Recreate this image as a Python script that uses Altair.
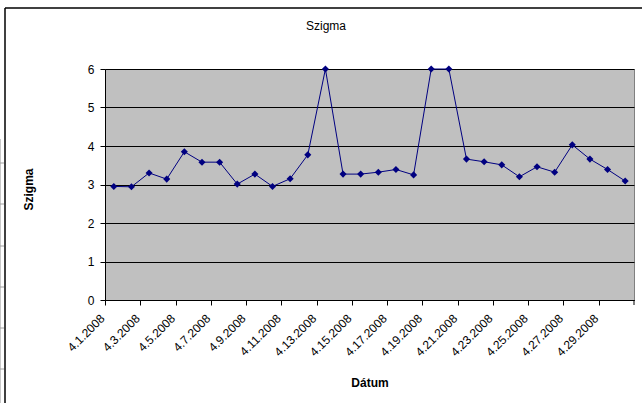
import altair as alt
import pandas as pd

# Daily sigma values for April 2008
days = list(range(1, 31))
date_labels = [f"4.{d}.2008" for d in days]
sigma = [2.95, 2.94, 3.30, 3.14, 3.85, 3.58, 3.58, 3.01, 3.27, 2.95,
         3.15, 3.77, 6.00, 3.27, 3.27, 3.32, 3.39, 3.25, 6.00, 6.00,
         3.66, 3.59, 3.51, 3.20, 3.46, 3.32, 4.03, 3.66, 3.39, 3.09]
shown_labels = date_labels[::2]
y_ticks = [0, 1, 2, 3, 4, 5, 6]

FONT = "Liberation Sans"
W, H = 529, 231
STEP = W / len(days)

df = pd.DataFrame({"Dátum": date_labels, "Szigma": sigma})

x_enc = alt.X(
    "Dátum:N",
    sort=date_labels,
    scale=alt.Scale(type="point", padding=0.5),
    axis=alt.Axis(
        values=shown_labels,
        title="Dátum",
        titleFont=FONT, titleFontSize=12, titleFontWeight="bold",
        titleColor="black", titleY=82, titleBaseline="middle",
        labelFont=FONT, labelFontSize=12, labelColor="black",
        labelAngle=-45, labelAlign="right", labelBaseline="middle",
        labelOffset=-STEP / 2 + 6, labelPadding=11, labelOverlap=False,
        tickOffset=-STEP / 2, tickSize=5, tickColor="black",
        domainColor="black", grid=False,
    ),
)
y_enc = alt.Y(
    "Szigma:Q",
    scale=alt.Scale(domain=[0, 6], nice=False, zero=True),
    axis=alt.Axis(
        values=y_ticks,
        title="Szigma",
        titleFont=FONT, titleFontSize=12, titleFontWeight="bold",
        titleColor="black", titleX=-77, titleY=120, titleAngle=-90,
        titleAlign="center", titleBaseline="middle",
        labelFont=FONT, labelFontSize=12, labelColor="black", labelPadding=6,
        tickSize=5, tickColor="black", domainColor="black",
        grid=True, gridColor="black", gridOpacity=1, gridWidth=1,
    ),
)

line = alt.Chart(df).mark_line(color="#000080", strokeWidth=1).encode(x=x_enc, y=y_enc)
pts = alt.Chart(df).mark_point(
    shape="diamond", filled=True, color="#000080", size=50, opacity=1
).encode(x=x_enc, y=y_enc)

one = pd.DataFrame({"k": [0]})
# chart title
title = alt.Chart(one).mark_text(
    text="Szigma", font=FONT, fontSize=12, color="black",
    align="center", baseline="middle",
).encode(x=alt.value(221), y=alt.value(-43))
# closing tick at the right end of the category axis
end_tick = alt.Chart(one).mark_rule(color="black").encode(
    x=alt.value(W), y=alt.value(H), y2=alt.value(H + 5)
)
# chart frame (top and left edges)
frame_top = alt.Chart(one).mark_rule(color="black", strokeWidth=1.5).encode(
    x=alt.value(-100), x2=alt.value(545), y=alt.value(-61)
)
frame_left = alt.Chart(one).mark_rule(color="black", strokeWidth=1.5).encode(
    x=alt.value(-100), y=alt.value(-61), y2=alt.value(340)
)
# sheet cell lines at the far left
cell_layers = [
    alt.Chart(one).mark_rule(color="#c8c8c8").encode(
        x=alt.value(-104.5), y=alt.value(70), y2=alt.value(340)
    )
]
for py in [94, 135, 177, 218, 259, 300]:
    cell_layers.append(
        alt.Chart(one).mark_rule(color="#a0a0a0").encode(
            x=alt.value(-105), x2=alt.value(-101), y=alt.value(py)
        )
    )

chart = (
    alt.layer(*cell_layers, frame_top, frame_left, title, line, pts, end_tick)
    .properties(
        width=W, height=H,
        autosize=alt.AutoSizeParams(type="none"),
        padding={"left": 105, "top": 69, "right": 8, "bottom": 103},
        background="white",
    )
    .configure_view(fill="#c0c0c0", stroke="#808080", strokeWidth=1)
)

chart.save("out.html", embed_options={"renderer": "svg", "actions": False})
